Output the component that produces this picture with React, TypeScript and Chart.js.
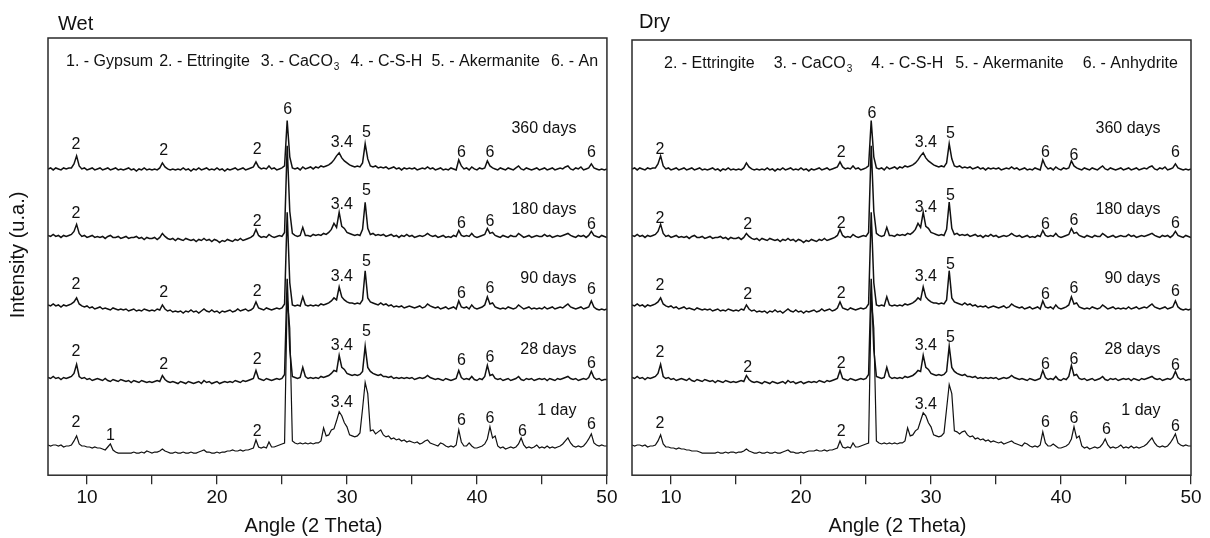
import React, { useEffect, useRef } from 'react';
import { Chart, registerables } from 'chart.js';

Chart.register(...registerables);

const FONT = "'Liberation Sans', Arial, Helvetica, sans-serif";

// x sampling grid (2 Theta), 7.0 .. 50.0 every 0.2 degree
const ANGLES: number[] = Array.from({ length: 216 }, (_, i) => Math.round((7 + i * 0.2) * 10) / 10);
const TICK_VALUES = [10, 15, 20, 25, 30, 35, 40, 45, 50];

const SERIES_NAMES = ['360 days', '180 days', '90 days', '28 days', '1 day'];
// vertical stacking offsets of each pattern (intensity units)
const STACK_OFFSETS = [304, 237, 166, 95, 26];

// intensities above each pattern's baseline, one value per angle
const SERIES_360 = [
  0, 1, -1, 1, 0, -1, 1, 0, 1, 1,
  5, 13, 3, 0, 1, -1, 0, 1, -1, 0,
  1, -1, 0, 1, -1, 0, 1, -1, 0, -1,
  0, 1, -1, 0, -2, 0, -1, 1, -1, 0,
  -1, 0, -1, 1, 6, 2, 0, -1, 0, -1,
  0, -1, 1, -1, 0, -2, 0, -1, 1, -1,
  0, 1, -1, 0, -1, 1, -1, 0, -2, 0,
  -1, 0, 1, -1, 0, 1, -1, 0, 1, 2,
  7, 2, 0, 1, 0, 3, 0, 1, -1, 0,
  1, 3, 48, 12, 1, 0, 1, -1, 2, 0,
  1, 2, 0, 2, 1, 3, 2, 3, 4, 6,
  9, 13, 16, 11, 8, 6, 4, 3, 2, 3,
  2, 6, 25, 10, 3, 2, 3, 1, 2, 1,
  2, 0, 1, 2, 0, 1, -1, 1, 0, 1,
  0, 1, -1, 0, 1, 0, 2, 0, 1, -1,
  0, 1, -1, 0, -1, 1, 0, -1, 9, 3,
  0, 1, -1, 2, 0, -1, 1, 0, 1, 8,
  3, 1, 0, -1, 1, 0, -1, 1, 0, -1,
  1, 3, 0, -1, 1, 0, -1, 0, 1, -1,
  0, 1, -1, 0, 1, -1, 0, 1, 0, 2,
  3, 0, -1, 1, 0, 2, -1, 0, 1, 5,
  1, 0, -1, 0, -1, 0,
];

const SERIES_180 = [
  1, 0, 2, 0, 1, -1, 1, 0, 1, 2,
  5, 12, 3, 0, 1, -1, 0, 1, -1, 0,
  -1, 0, -2, 0, 1, -1, -1, 0, -2, -1,
  0, -2, -1, -1, 0, -2, -1, -3, -1, -2,
  -2, -1, -3, -1, 3, 0, -2, -3, -2, -4,
  -2, -3, -4, -2, -3, -4, -3, -5, -3, -4,
  -2, -4, -3, -5, -3, -4, -6, -4, -5, -3,
  -4, -5, -3, -4, -2, -4, -3, -2, -1, 1,
  7, 1, -1, 0, -1, 2, 0, -1, 0, 1,
  0, 4, 90, 25, 3, 1, 0, 1, 9, 1,
  1, 0, 2, 1, 2, 1, 3, 2, 4, 7,
  13, 9, 24, 10, 8, 4, 3, 2, 1, 2,
  1, 7, 34, 8, 2, 3, 1, 2, 1, 2,
  0, 1, 2, 0, 1, -1, 1, 0, 2, 0,
  1, -1, 0, 1, 0, 1, 3, 1, 0, 1,
  -1, 0, 1, -1, 0, -1, 1, 0, 6, 1,
  0, 1, 0, 3, 0, -1, 0, 1, 2, 8,
  3, 4, 1, 0, -1, 1, 0, -1, 1, 0,
  0, 3, 1, -1, 0, 1, -1, 0, 1, 0,
  0, 2, 0, 1, -1, 0, 1, 0, 1, 2,
  3, 1, 0, -1, 1, 0, 1, -1, 1, 5,
  1, 0, -1, 1, 0, -1,
];

const SERIES_90 = [
  3, 2, 4, 2, 3, 1, 3, 2, 3, 4,
  6, 10, 4, 2, 1, 2, 0, 1, -1, 0,
  1, -1, 0, -1, -2, 0, -1, -2, -1, -2,
  -1, -3, -2, -1, -3, -2, -3, -1, -2, -3,
  -2, -3, -1, -2, 3, -1, -3, -2, -4, -3,
  -4, -3, -5, -3, -4, -2, -4, -3, -5, -3,
  -1, -3, -4, -2, -4, -3, -5, -3, -4, -3,
  -2, -4, -3, -1, -3, -2, -1, -3, -2, 0,
  6, 0, -1, -2, 0, -1, -2, -1, 0, -1,
  0, 4, 95, 25, 3, 2, 3, 2, 11, 3,
  2, 3, 2, 3, 2, 4, 3, 4, 5, 7,
  10, 8, 21, 11, 8, 6, 5, 5, 4, 5,
  4, 8, 37, 10, 6, 5, 4, 3, 5, 3,
  4, 2, 3, 1, 2, 1, 2, 0, 1, 2,
  1, 0, 1, 2, 0, 1, 4, 2, 1, 0,
  1, -1, 0, 1, -1, 0, 1, -1, 7, 1,
  0, 1, -1, 3, 0, -1, 0, 1, 3, 11,
  4, 5, 1, 0, -1, 0, -1, 1, 0, -1,
  0, 3, 1, -1, 0, 1, -1, 0, -1, 0,
  -1, 1, -1, 0, 1, -1, 0, 1, 0, 2,
  4, 1, 0, -1, 0, 1, -1, 0, 1, 7,
  1, -1, -2, -1, -2, -1,
];

const SERIES_28 = [
  2, 1, 3, 1, 2, 0, 2, 1, 2, 3,
  6, 15, 3, 1, 2, 0, 1, -1, 0, 1,
  0, -1, 1, -1, -2, 0, -1, -2, 0, -1,
  -2, -1, -3, -1, -2, -3, -1, -2, -3, -2,
  -3, -2, -1, -2, 4, 0, -2, -3, -2, -3,
  -4, -2, -3, -4, -2, -3, -4, -3, -2, -4,
  -1, -3, -2, -4, -3, -2, -4, -3, -2, -3,
  -2, -3, -1, -2, -3, -1, -2, -1, 0, 1,
  9, 1, 0, -1, 1, 0, -1, 0, 1, 0,
  1, 5, 100, 30, 3, 2, 1, 2, 12, 3,
  1, 2, 1, 2, 1, 3, 2, 3, 4, 6,
  9, 8, 24, 12, 10, 6, 5, 4, 5, 4,
  5, 8, 33, 12, 8, 6, 5, 4, 5, 3,
  3, 2, 3, 1, 2, 1, 2, 1, 2, 1,
  2, 0, 1, 2, 1, 2, 4, 2, 1, 0,
  1, 0, -1, 1, 0, -1, 0, 1, 9, 2,
  0, 1, 0, 3, 0, -1, 1, 0, 3, 14,
  4, 5, 1, 0, 1, -1, 0, 1, -1, 0,
  1, 3, 0, -1, 1, 0, 1, -1, 0, 1,
  0, 1, -1, 1, 0, -1, 1, 0, 1, 2,
  3, 1, 0, 1, -1, 0, 1, 0, 2, 8,
  2, 0, 1, -1, 0, 0,
];

const SERIES_1DAY_WET = [
  4, 3, 4, 4, 3, 4, 2, 3, 3, 4,
  8, 13, 5, 3, 3, 2, 2, 1, 2, 1,
  1, 0, -1, 2, 5, -1, -3, -4, -4, -4,
  -4, -4, -4, -3, -4, -4, -3, -4, -2, -3,
  -4, -3, -3, -2, 0, -2, -3, -4, -4, -3,
  -4, -4, -3, -4, -4, -3, -4, -4, -3, -2,
  -1, -3, -3, -4, -4, -3, -4, -3, -3, -2,
  -2, -1, -2, -2, -1, -2, -1, -1, 0, 1,
  9, 2, 1, 2, 1, 7, 2, 2, 3, 4,
  5, 6, 150, 120, 8, 6, 5, 6, 5, 6,
  5, 6, 5, 6, 6, 8, 21, 13, 14, 19,
  20, 28, 37, 33, 26, 22, 14, 13, 12, 13,
  16, 40, 66, 55, 18, 19, 15, 17, 19, 14,
  12, 13, 10, 11, 9, 10, 8, 9, 7, 8,
  7, 6, 7, 5, 6, 8, 9, 6, 5, 4,
  3, 6, 5, 3, 2, 3, 2, 4, 19, 7,
  3, 3, 6, 3, 1, 1, 2, 3, 5, 10,
  22, 11, 13, 3, 1, 2, 0, 1, 2, 1,
  2, 5, 11, 4, 1, 2, 1, 2, 4, 1,
  2, 1, 3, 1, 2, 1, 2, 3, 5, 8,
  11, 6, 3, 2, 3, 2, 3, 6, 10, 15,
  6, 4, 3, 4, 3, 3,
];

const SERIES_1DAY_DRY = [
  4, 3, 4, 4, 3, 4, 2, 3, 3, 4,
  8, 14, 5, 2, 2, 1, 1, 0, 1, 0,
  0, -1, -1, -2, -2, -2, -3, -4, -4, -4,
  -4, -4, -4, -3, -4, -4, -3, -4, -3, -3,
  -4, -3, -3, -2, 0, -2, -3, -4, -4, -3,
  -4, -4, -3, -4, -4, -3, -4, -4, -3, -2,
  -1, -3, -3, -4, -4, -3, -4, -3, -2, -2,
  -2, -1, -2, -2, -1, -2, -1, -1, 0, 1,
  8, 2, 1, 2, 1, 6, 2, 2, 3, 4,
  5, 6, 150, 120, 8, 6, 5, 6, 5, 6,
  5, 6, 5, 6, 6, 8, 21, 13, 14, 18,
  20, 28, 36, 33, 26, 22, 14, 13, 12, 13,
  16, 40, 64, 55, 18, 17, 15, 17, 18, 14,
  12, 13, 10, 11, 9, 10, 8, 9, 7, 8,
  7, 6, 7, 5, 6, 7, 8, 6, 5, 4,
  3, 6, 5, 3, 2, 3, 2, 4, 17, 6,
  3, 3, 5, 3, 1, 1, 2, 3, 5, 10,
  22, 11, 13, 3, 1, 2, 0, 1, 2, 1,
  2, 5, 10, 4, 1, 2, 1, 2, 4, 1,
  2, 1, 3, 1, 2, 1, 2, 3, 5, 8,
  11, 6, 3, 2, 3, 2, 3, 6, 10, 15,
  6, 4, 3, 4, 3, 3,
];

const WET_SERIES = [SERIES_360, SERIES_180, SERIES_90, SERIES_28, SERIES_1DAY_WET];
const DRY_SERIES = [SERIES_360, SERIES_180, SERIES_90, SERIES_28, SERIES_1DAY_DRY];

// peak annotations: [text, angle, intensity]
const WET_PEAK_LABELS: [string, number, number][] = [
  ['2', 9.15, 328], ['2', 15.9, 322], ['2', 23.1, 323], ['6', 25.45, 363], ['3.4', 29.6, 330], ['5', 31.5, 340], ['6', 38.8, 320], ['6', 41.0, 320], ['6', 48.8, 320],
  ['2', 9.15, 260], ['2', 23.1, 252], ['3.4', 29.6, 269], ['5', 31.5, 283], ['6', 38.8, 250], ['6', 41.0, 252], ['6', 48.8, 249],
  ['2', 9.15, 189], ['2', 15.9, 181], ['2', 23.1, 182], ['3.4', 29.6, 197], ['5', 31.5, 212], ['6', 38.8, 180], ['6', 41.0, 185], ['6', 48.8, 184],
  ['2', 9.15, 123], ['2', 15.9, 110], ['2', 23.1, 115], ['3.4', 29.6, 129], ['5', 31.5, 143], ['6', 38.8, 114], ['6', 41.0, 117], ['6', 48.8, 111],
  ['2', 9.15, 52], ['1', 11.8, 39], ['2', 23.1, 43], ['3.4', 29.6, 72], ['6', 38.8, 54], ['6', 41.0, 56], ['6', 43.5, 43], ['6', 48.8, 50],
];
const DRY_PEAK_LABELS: [string, number, number][] = [
  ['2', 9.15, 323], ['2', 23.1, 320], ['6', 25.45, 359], ['3.4', 29.6, 330], ['5', 31.5, 339], ['6', 38.8, 320], ['6', 41.0, 317], ['6', 48.8, 320],
  ['2', 9.15, 255], ['2', 15.9, 249], ['2', 23.1, 250], ['3.4', 29.6, 266], ['5', 31.5, 278], ['6', 38.8, 249], ['6', 41.0, 253], ['6', 48.8, 250],
  ['2', 9.15, 188], ['2', 15.9, 179], ['2', 23.1, 180], ['3.4', 29.6, 197], ['5', 31.5, 209], ['6', 38.8, 179], ['6', 41.0, 185], ['6', 48.8, 182],
  ['2', 9.15, 122], ['2', 15.9, 107], ['2', 23.1, 111], ['3.4', 29.6, 129], ['5', 31.5, 137], ['6', 38.8, 110], ['6', 41.0, 115], ['6', 48.8, 109],
  ['2', 9.15, 51], ['2', 23.1, 43], ['3.4', 29.6, 70], ['6', 38.8, 52], ['6', 41.0, 56], ['6', 43.5, 45], ['6', 48.8, 48],
];

const DAY_LABEL_ANGLE = 47.65;
const DAY_LABEL_VALUES = [344, 264, 195, 125, 64];

// legend entries: [text, subscript]
const WET_LEGEND: [string, string][] = [
  ['1. - Gypsum', ''], ['2. - Ettringite', ''], ['3. - CaCO', '3'], ['4. - C-S-H', ''], ['5. - Akermanite', ''], ['6. - An', ''],
];
const DRY_LEGEND: [string, string][] = [
  ['2. - Ettringite', ''], ['3. - CaCO', '3'], ['4. - C-S-H', ''], ['5. - Akermanite', ''], ['6. - Anhydrite', ''],
];

type PanelCfg = {
  title: string;
  series: number[][];
  peaks: [string, number, number][];
  legend: [string, string][];
  legendGaps: number[];
  legendStart: number;
  yMax: number;
  padding: { left: number; right: number; top: number; bottom: number };
  width: number;
  left: number;
  showYTitle: boolean;
  titleX: number;
  titleY: number;
};

function makeOverlay(cfg: PanelCfg) {
  return {
    id: 'overlay',
    afterDraw(chart: any) {
      const { ctx, chartArea: ca } = chart;
      const xs = chart.scales.x;
      const ys = chart.scales.y;
      ctx.save();
      // frame
      ctx.strokeStyle = '#2a2a2a';
      ctx.lineWidth = 1.5;
      ctx.strokeRect(ca.left, ca.top, ca.right - ca.left, ca.bottom - ca.top);
      ctx.fillStyle = '#111';
      // panel title
      ctx.font = `20px ${FONT}`;
      ctx.textAlign = 'left';
      ctx.textBaseline = 'middle';
      ctx.fillText(cfg.title, ca.left + cfg.titleX, cfg.titleY);
      // legend
      let lx = ca.left + cfg.legendStart;
      const ly = ca.top + 24;
      cfg.legend.forEach(([txt, sub], i) => {
        ctx.font = `16px ${FONT}`;
        ctx.fillText(txt, lx, ly);
        lx += ctx.measureText(txt).width;
        if (sub) {
          ctx.font = `10px ${FONT}`;
          ctx.fillText(sub, lx + 1, ly + 5);
          lx += ctx.measureText(sub).width + 1;
        }
        lx += cfg.legendGaps[i] || 0;
      });
      // peak labels
      ctx.font = `16px ${FONT}`;
      ctx.textAlign = 'center';
      for (const [t, a, v] of cfg.peaks) {
        ctx.fillText(t, xs.getPixelForValue(a), ys.getPixelForValue(v));
      }
      // age labels
      ctx.textAlign = 'right';
      SERIES_NAMES.forEach((n, i) => {
        ctx.fillText(n, xs.getPixelForValue(DAY_LABEL_ANGLE), ys.getPixelForValue(DAY_LABEL_VALUES[i]));
      });
      // x title
      ctx.font = `20px ${FONT}`;
      ctx.textAlign = 'center';
      ctx.fillText('Angle (2 Theta)', (ca.left + ca.right) / 2 - 14, 526);
      if (cfg.showYTitle) {
        ctx.translate(18, 255);
        ctx.rotate(-Math.PI / 2);
        ctx.fillText('Intensity (u.a.)', 0, 0);
      }
      ctx.restore();
    },
  };
}

function Panel({ cfg }: { cfg: PanelCfg }) {
  const ref = useRef<HTMLCanvasElement | null>(null);
  useEffect(() => {
    if (!ref.current) return;
    const datasets = cfg.series.map((vals, i) => ({
      label: SERIES_NAMES[i],
      data: ANGLES.map((a, k) => ({ x: a, y: vals[k] + STACK_OFFSETS[i] })),
      borderColor: '#111',
      borderWidth: i === 4 ? 1.2 : 1.5,
      pointRadius: 0,
      tension: 0,
      fill: false,
    }));
    const chart = new Chart(ref.current, {
      type: 'line',
      data: { datasets },
      options: {
        animation: false,
        responsive: false,
        devicePixelRatio: 1,
        layout: { padding: cfg.padding },
        plugins: { legend: { display: false }, tooltip: { enabled: false }, title: { display: false } },
        scales: {
          x: {
            type: 'linear',
            min: 7,
            max: 50,
            afterBuildTicks: (s: any) => {
              s.ticks = TICK_VALUES.map((v) => ({ value: v }));
            },
            grid: { drawOnChartArea: false, drawTicks: true, tickLength: 9, color: '#2a2a2a', lineWidth: 1.3 },
            border: { display: false },
            ticks: {
              padding: 2.5,
              color: '#111',
              autoSkip: false,
              maxRotation: 0,
              font: { family: FONT, size: 19 },
              callback: (v: any) => (Number(v) % 10 === 0 ? String(v) : ''),
            },
          },
          y: { display: false, min: 0, max: cfg.yMax },
        },
      },
      plugins: [makeOverlay(cfg)],
    } as any);
    return () => chart.destroy();
  }, [cfg]);
  return (
    <canvas
      ref={ref}
      width={cfg.width}
      height={538}
      style={{ position: 'absolute', left: cfg.left, top: 0, width: cfg.width, height: 538 }}
    />
  );
}

const WET_CFG: PanelCfg = {
  title: 'Wet',
  series: WET_SERIES,
  peaks: WET_PEAK_LABELS,
  legend: WET_LEGEND,
  legendGaps: [6, 11, 11, 9, 11],
  legendStart: 18,
  yMax: 434,
  padding: { left: 48, right: 13, top: 38, bottom: 26 },
  width: 620,
  left: 0,
  showYTitle: true,
  titleX: 10,
  titleY: 24,
};

const DRY_CFG: PanelCfg = {
  title: 'Dry',
  series: DRY_SERIES,
  peaks: DRY_PEAK_LABELS,
  legend: DRY_LEGEND,
  legendGaps: [19, 19, 12, 19],
  legendStart: 32,
  yMax: 432,
  padding: { left: 12, right: 19, top: 40, bottom: 26 },
  width: 590,
  left: 620,
  showYTitle: false,
  titleX: 7,
  titleY: 22,
};

export default function App() {
  return (
    <div style={{ position: 'fixed', left: 0, top: 0, width: 1210, height: 538, background: '#fff', overflow: 'hidden' }}>
      <Panel cfg={WET_CFG} />
      <Panel cfg={DRY_CFG} />
    </div>
  );
}
